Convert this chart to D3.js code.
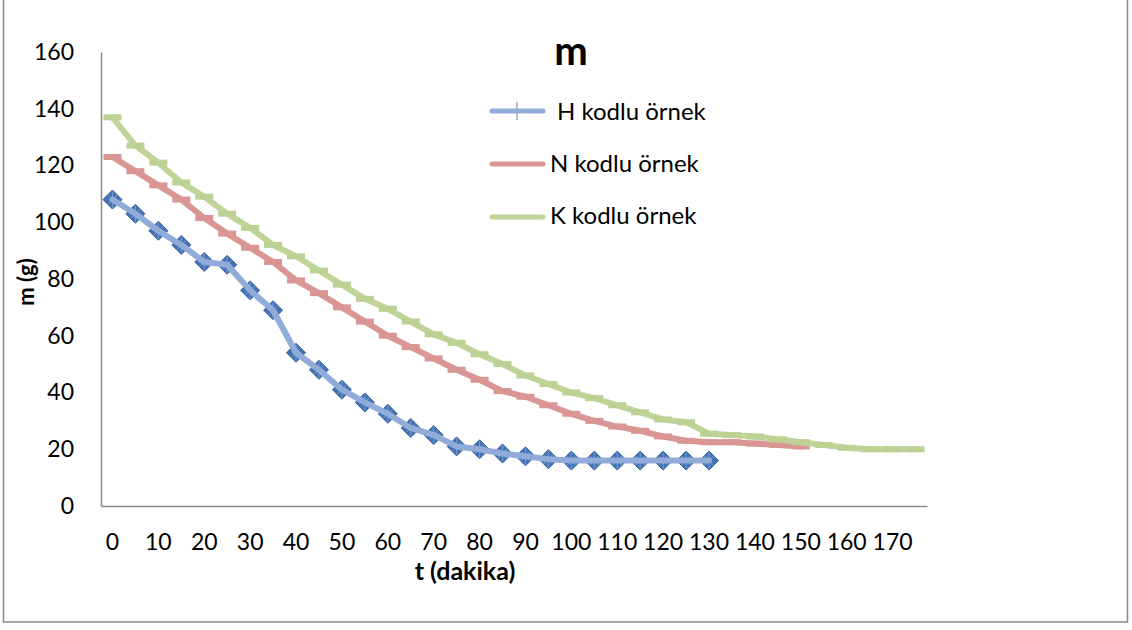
<!DOCTYPE html>
<html>
<head>
<meta charset="utf-8">
<script src="https://cdn.jsdelivr.net/npm/d3@7"></script>
<style>
  html, body { margin: 0; padding: 0; background: #fff; }
  svg { display: block; font-family: Lato, "Open Sans", sans-serif; }
</style>
</head>
<body>
<svg id="chart" width="1132" height="630"></svg>
<script>
// Time categories (minutes) and the tick labels shown on the axis
const categories = [0, 5, 10, 15, 20, 25, 30, 35, 40, 45, 50, 55, 60, 65, 70, 75, 80, 85,
  90, 95, 100, 105, 110, 115, 120, 125, 130, 135, 140, 145, 150, 155, 160, 165, 170, 175];
const xTickLabels = [0, 10, 20, 30, 40, 50, 60, 70, 80, 90, 100, 110, 120, 130, 140, 150, 160, 170];
const yTickLabels = [0, 20, 40, 60, 80, 100, 120, 140, 160];

// Mass (g) per sample, one value per category starting at t = 0
const seriesH = [108, 103, 97, 92, 86, 85, 76, 69, 54, 48, 41, 36.5, 32.5, 27.5, 25, 21, 20,
  18.5, 17.5, 16.5, 16, 16, 16, 16, 16, 16, 16];
const seriesN = [123, 118, 113, 108, 101.5, 96, 91, 86, 79.5, 75, 70, 65, 60, 56, 52, 48, 44.5,
  40.5, 38.5, 35.5, 32.5, 30, 28, 26.5, 24.5, 23, 22.5, 22.5, 22, 21.5, 21];
const seriesK = [137, 127, 121, 114, 109, 103, 98, 92, 88, 83, 78, 73, 69.5, 65, 60.5, 57.5, 53.5,
  50, 46, 43, 40, 38, 35.5, 33, 30.5, 29.5, 25.5, 25, 24.5, 23.5, 22.5, 21.5, 20.5, 20, 20, 20];

const seriesNames = ["H kodlu örnek", "N kodlu örnek", "K kodlu örnek"];

const svg = d3.select("#chart");

// outer chart frame
svg.append("rect")
  .attr("x", 3.5).attr("y", -5).attr("width", 1124).attr("height", 627)
  .attr("fill", "none").attr("stroke", "#8a8a8a").attr("stroke-width", 1.5);

const x = d3.scaleBand().domain(categories).range([101, 927]).padding(0);
const y = d3.scaleLinear().domain([0, 160]).range([506, 52]);
const cx = c => x(c) + x.bandwidth() / 2;

// axes
const yAxis = svg.append("g")
  .attr("transform", "translate(101,0)")
  .call(d3.axisLeft(y).tickValues(yTickLabels).tickSize(0).tickPadding(27));
const xAxis = svg.append("g")
  .attr("transform", "translate(0,506)")
  .call(d3.axisBottom(x).tickValues(xTickLabels).tickSize(0).tickPadding(28));
[yAxis, xAxis].forEach(g => {
  g.select(".domain").attr("stroke", "#8a8a8a").attr("stroke-width", 1.5);
  g.selectAll("text").attr("font-size", 23).attr("fill", "#000")
    .attr("font-family", "Lato, 'Open Sans', sans-serif");
});

const toPoints = vals => vals.map((v, i) => ({ c: categories[i], v }));
const line = d3.line().x(d => cx(d.c)).y(d => y(d.v));

const colH = "#91acd8", colHMarker = "#4373b4";
const colN = "#d99694";
const colK = "#bfd499";

// H series: diamond markers with the line drawn across them
const ptsH = toPoints(seriesH);
const gH = svg.append("g");
gH.selectAll("path.mk").data(ptsH).join("path")
  .attr("class", "mk")
  .attr("d", d => {
    const px = cx(d.c), py = y(d.v), r = 9.5;
    return `M${px},${py - r}L${px + r},${py}L${px},${py + r}L${px - r},${py}Z`;
  })
  .attr("fill", colHMarker).attr("stroke", "#355f9c").attr("stroke-width", 1);
gH.selectAll("path.bev").data(ptsH).join("path")
  .attr("class", "bev")
  .attr("d", d => {
    const px = cx(d.c), py = y(d.v), r = 4.5;
    return `M${px - r},${py - r}L${px + r},${py + r}M${px - r},${py + r}L${px + r},${py - r}M${px},${py - 8.5}L${px},${py + 8.5}`;
  })
  .attr("stroke", "#7d9fd0").attr("stroke-width", 1).attr("fill", "none");
gH.append("path").datum(ptsH).attr("d", line)
  .attr("fill", "none").attr("stroke", colH).attr("stroke-width", 6)
  .attr("stroke-linejoin", "round").attr("stroke-linecap", "round");

// N and K series: line with short dash markers
function dashSeries(vals, color, markColor) {
  const pts = toPoints(vals);
  const g = svg.append("g");
  g.append("path").datum(pts).attr("d", line)
    .attr("fill", "none").attr("stroke", color).attr("stroke-width", 6)
    .attr("stroke-linejoin", "round").attr("stroke-linecap", "round");
  g.selectAll("rect").data(pts).join("rect")
    .attr("x", d => cx(d.c) - 9).attr("y", d => y(d.v) - 3)
    .attr("width", 18).attr("height", 6)
    .attr("fill", markColor);
}
dashSeries(seriesN, colN, colN);
dashSeries(seriesK, colK, "#bcd295");

// title
svg.append("text").attr("x", 571).attr("y", 65).attr("text-anchor", "middle")
  .attr("font-size", 40).attr("font-weight", "bold").text("m");

// axis titles
svg.append("text").attr("x", 465).attr("y", 580).attr("text-anchor", "middle")
  .attr("font-size", 25).attr("font-weight", "bold").text("t (dakika)");
svg.append("text").attr("transform", "translate(34,282) rotate(-90)")
  .attr("text-anchor", "middle")
  .attr("font-size", 22).attr("font-weight", "bold").text("m (g)");

// legend
const legendRows = [
  { name: seriesNames[0], color: colH, ly: 111, tx: 557, ty: 120, tick: true },
  { name: seriesNames[1], color: colN, ly: 164, tx: 550, ty: 172, tick: false },
  { name: seriesNames[2], color: colK, ly: 217, tx: 550, ty: 224, tick: false }
];
const lg = svg.append("g");
legendRows.forEach(r => {
  lg.append("line").attr("x1", 492).attr("x2", 543).attr("y1", r.ly).attr("y2", r.ly)
    .attr("stroke", r.color).attr("stroke-width", 5).attr("stroke-linecap", "round");
  if (r.tick) {
    lg.append("line").attr("x1", 517).attr("x2", 517).attr("y1", r.ly - 9).attr("y2", r.ly + 9)
      .attr("stroke", r.color).attr("stroke-width", 1.5);
  }
  lg.append("text").attr("x", r.tx).attr("y", r.ty).attr("font-size", 24).text(r.name);
});
</script>
</body>
</html>
